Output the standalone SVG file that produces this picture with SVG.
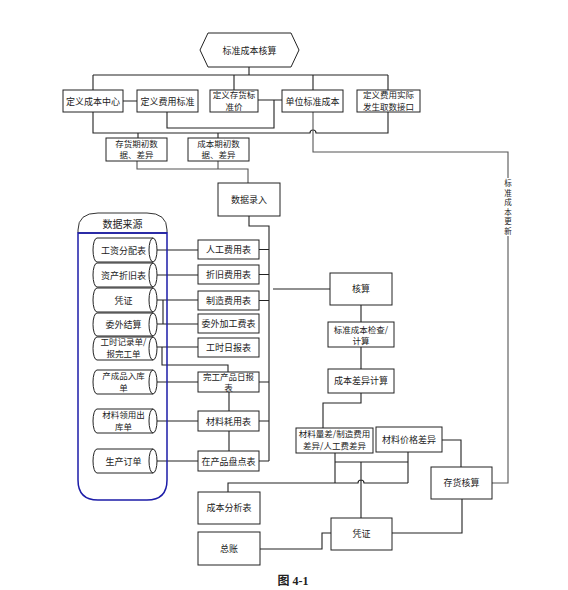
<svg xmlns="http://www.w3.org/2000/svg" width="568" height="590" viewBox="0 0 568 590">
<style>
.b{fill:#fff;stroke:#222;stroke-width:1}
.cy{fill:#fff;stroke:#222;stroke-width:1}
.t{font-family:"Noto Sans CJK SC","Liberation Sans",sans-serif;font-size:9px;fill:#222;text-anchor:middle}
.t2{font-size:8.5px}
.c{fill:none;stroke:#222;stroke-width:1.1}
.g{fill:none;stroke:#555;stroke-width:1.1}
</style>
<rect width="568" height="590" fill="#fff"/>

<g id="connectors">
<path class="c" d="M249,67V75M93,75H388M93,75V90M234,75V90M313,75V90M388,75V90"/>
<path class="c" d="M123,101H137M258,100H282M167,112V128H274V100"/>
<path class="c" stroke-width="1.4" d="M93,112V133H310A3,3 0 0 1 316,133H388V112"/>
<path class="c" d="M138,133V138M218,133V138"/>
<path class="g" d="M313,112V152H508V178M508,236V483H492"/>
<path class="g" d="M137,161V169H248V183M218,161V169"/>
<path class="c" stroke-width="1.6" d="M249,216V226H269V461"/>
<path class="c" d="M259,249.5H269M259,274.5H269M259,300.5H269M259,382H269M259,421H269M259,461H269"/>
<path class="c" d="M157,250H198M157,275H198M157,300H198M157,324H198M163,300V324M157,347H198M162,347V365H228V372M157,382H198M157,421H198M157,461H198"/>
<path class="c" d="M229,392V411M229,431V451"/>
<path class="c" d="M273,289H330M361,305V322M361,347V369M361,393V403H323V428M442,440H461V467"/>
<path class="c" d="M335,453V483M408,452V483M335,462H408M361,462V518M228,492V483H358A3,3 0 0 1 364,483H408"/>
<path class="c" d="M260,549H322V533H331M392,533H462V499"/>
</g>

<g id="hex">
<polygon class="b" points="200,50 208,33 291,33 299,50 291,67 208,67"/>
<text class="t" x="249.5" y="53.5">标准成本核算</text>
</g>

<g id="n-cbzx"><rect class="b" x="63" y="90" width="60" height="22"/><text class="t" x="93" y="104.5">定义成本中心</text></g>
<g id="n-fybz"><rect class="b" x="137" y="90" width="61" height="22"/><text class="t" x="167.5" y="104.5">定义费用标准</text></g>
<g id="n-chbzj"><rect class="b" x="210" y="90" width="48" height="22"/><text class="t t2" x="234" y="98">定义存货标</text><text class="t t2" x="234" y="109.5">准价</text></g>
<g id="n-dwbzcb"><rect class="b" x="282" y="90" width="61" height="22"/><text class="t" x="312.5" y="104.5">单位标准成本</text></g>
<g id="n-fysj"><rect class="b" x="357" y="90" width="63" height="22"/><text class="t t2" x="388.5" y="98">定义费用实际</text><text class="t t2" x="388.5" y="109.5">发生取数接口</text></g>

<g id="n-chqc"><rect class="b" x="106" y="138" width="61" height="23"/><text class="t t2" x="136.5" y="146.5">存货期初数</text><text class="t t2" x="136.5" y="158">据、差异</text></g>
<g id="n-cbqc"><rect class="b" x="188" y="138" width="61" height="23"/><text class="t t2" x="218.5" y="146.5">成本期初数</text><text class="t t2" x="218.5" y="158">据、差异</text></g>
<g id="n-sjlr"><rect class="b" x="218" y="183" width="62" height="33"/><text class="t" x="249" y="203">数据录入</text></g>

<g id="source">
<path d="M78,233V230Q78,213 98,213H147Q167,213 167,230V233Z" fill="#fff" stroke="#333" stroke-width="1"/>
<path d="M78,233V480Q78,500 98,500H147Q167,500 167,480V233Z" fill="none" stroke="#1c1ca8" stroke-width="1.5"/>
<line x1="78" y1="233" x2="167" y2="233" stroke="#1c1ca8" stroke-width="1.2"/>
<text class="t" x="122.5" y="227.5" style="font-size:10px">数据来源</text>
</g>

<g id="cy1"><path class="cy" d="M97,238H153A4,12 0 0 1 153,262A4,12 0 0 1 153,238M153,262H97A4,12 0 0 1 97,238"/><text class="t" x="123.5" y="253.5">工资分配表</text></g>
<g id="cy2"><path class="cy" d="M97,263H153A4,12 0 0 1 153,287A4,12 0 0 1 153,263M153,287H97A4,12 0 0 1 97,263"/><text class="t" x="123.5" y="278.5">资产折旧表</text></g>
<g id="cy3"><path class="cy" d="M97,288H153A4,12 0 0 1 153,312A4,12 0 0 1 153,288M153,312H97A4,12 0 0 1 97,288"/><text class="t" x="123.5" y="303.5">凭证</text></g>
<g id="cy4"><path class="cy" d="M97,313H153A4,11.5 0 0 1 153,336A4,11.5 0 0 1 153,313M153,336H97A4,11.5 0 0 1 97,313"/><text class="t" x="123.5" y="327.5">委外结算</text></g>
<g id="cy5"><path class="cy" d="M97,337H153A4,11.5 0 0 1 153,360A4,11.5 0 0 1 153,337M153,360H97A4,11.5 0 0 1 97,337"/><text class="t t2" x="123.5" y="345">工时记录单/</text><text class="t t2" x="123.5" y="356.5">报完工单</text></g>
<g id="cy6"><path class="cy" d="M97,370H153A4,12 0 0 1 153,394A4,12 0 0 1 153,370M153,394H97A4,12 0 0 1 97,370"/><text class="t t2" x="123.5" y="378.5">产成品入库</text><text class="t t2" x="123.5" y="390.5">单</text></g>
<g id="cy7"><path class="cy" d="M97,409H153A4,12 0 0 1 153,433A4,12 0 0 1 153,409M153,433H97A4,12 0 0 1 97,409"/><text class="t t2" x="123.5" y="418">材料领用出</text><text class="t t2" x="123.5" y="429.5">库单</text></g>
<g id="cy8"><path class="cy" d="M97,449H153A4,12 0 0 1 153,473A4,12 0 0 1 153,449M153,473H97A4,12 0 0 1 97,449"/><text class="t" x="123.5" y="464.5">生产订单</text></g>

<g id="t1"><rect class="b" x="198" y="240" width="61" height="19"/><text class="t" x="228.5" y="253">人工费用表</text></g>
<g id="t2"><rect class="b" x="198" y="265" width="61" height="19"/><text class="t" x="228.5" y="278">折旧费用表</text></g>
<g id="t3"><rect class="b" x="198" y="291" width="61" height="19"/><text class="t" x="228.5" y="304">制造费用表</text></g>
<g id="t4"><rect class="b" x="198" y="314" width="61" height="19"/><text class="t" x="228.5" y="327">委外加工费表</text></g>
<g id="t5"><rect class="b" x="198" y="338" width="61" height="19"/><text class="t" x="228.5" y="351">工时日报表</text></g>
<g id="t6"><rect class="b" x="198" y="372" width="61" height="20"/><text class="t t2" x="228.5" y="379.5">完工产品日报</text><text class="t t2" x="228.5" y="391">表</text></g>
<g id="t7"><rect class="b" x="198" y="411" width="61" height="20"/><text class="t" x="228.5" y="424.5">材料耗用表</text></g>
<g id="t8"><rect class="b" x="198" y="451" width="61" height="20"/><text class="t" x="228.5" y="464.5">在产品盘点表</text></g>

<g id="r-hs"><rect class="b" x="330" y="273" width="62" height="32"/><text class="t" x="361" y="292">核算</text></g>
<g id="r-jc"><rect class="b" x="328" y="322" width="66" height="25"/><text class="t t2" x="361" y="332.5">标准成本检查/</text><text class="t t2" x="361" y="344">计算</text></g>
<g id="r-cy"><rect class="b" x="328" y="369" width="66" height="24"/><text class="t" x="361" y="384">成本差异计算</text></g>
<g id="r-lc"><rect class="b" x="296" y="428" width="77" height="25"/><text class="t t2" x="334.5" y="437">材料量差/制造费用</text><text class="t t2" x="334.5" y="449">差异/人工费差异</text></g>
<g id="r-jg"><rect class="b" x="376" y="427" width="66" height="25"/><text class="t" x="409" y="443">材料价格差异</text></g>
<g id="r-ch"><rect class="b" x="431" y="467" width="61" height="32"/><text class="t" x="461.5" y="486">存货核算</text></g>
<g id="r-fx"><rect class="b" x="198" y="492" width="62" height="32"/><text class="t" x="229" y="511">成本分析表</text></g>
<g id="r-zz"><rect class="b" x="198" y="532" width="62" height="33"/><text class="t" x="229" y="551.5">总账</text></g>
<g id="r-pz"><rect class="b" x="331" y="518" width="61" height="32"/><text class="t" x="361.5" y="537">凭证</text></g>

<g id="label-update" style="font-family:'Noto Sans CJK SC',sans-serif;font-size:7.5px;fill:#222;text-anchor:middle">
<text x="508" y="186">标</text><text x="508" y="195.5">准</text><text x="508" y="205">成</text><text x="508" y="214.5">本</text><text x="508" y="224">更</text><text x="508" y="233.5">新</text>
</g>

<text x="293" y="585" style="font-family:'Liberation Serif','Noto Sans CJK SC',serif;font-size:12px;font-weight:bold;fill:#222;text-anchor:middle">图 4-1</text>
</svg>
